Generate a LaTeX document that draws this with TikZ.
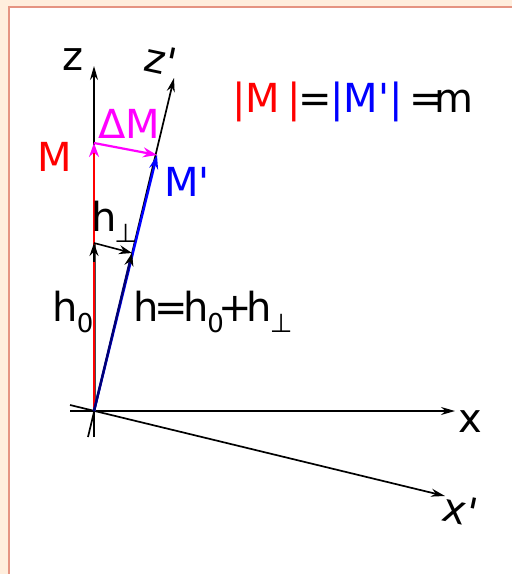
\documentclass[tikz,border=0pt]{standalone}
\usepackage{fontspec}
\setmainfont{DejaVu Sans}
\usetikzlibrary{arrows.meta}
\definecolor{peach}{HTML}{FFEEDD}
\definecolor{salmon}{HTML}{E59482}
\definecolor{mag}{HTML}{FF00FF}
\definecolor{rd}{HTML}{FF0000}
\definecolor{bl}{HTML}{0000FF}
\newcommand{\sbs}[1]{\raisebox{-0.28em}{\fontsize{26}{30}\selectfont #1}}
\newcommand{\pr}{\textquotesingle}
\tikzset{
  lbl/.style={inner sep=0pt, font=\fontsize{40}{48}\selectfont},
  axis/.style={line width=1.7pt, -{Stealth[length=14pt,width=8pt]}},
  vec/.style={line width=2.4pt, -{Stealth[length=14pt,width=9pt]}},
}
\begin{document}
\begin{tikzpicture}[x=1pt,y=-1pt]
\useasboundingbox (0,0) rectangle (512,574);
\fill[peach] (0,0) rectangle (512,574);
\draw[salmon, line width=1.5pt, fill=white] (9,7) rectangle (530,590);
% points
\coordinate (O) at (94,411);
\coordinate (zt) at (94,66);
\coordinate (zb) at (94,437);
\coordinate (zpt) at (174,78);
\coordinate (zpb) at (88,437);
\coordinate (xt) at (455,411);
\coordinate (xb) at (70,411);
\coordinate (xpt) at (445,496);
\coordinate (xpb) at (70,405);
\coordinate (Mt) at (94,143);
\coordinate (Mpt) at (157,155);
\coordinate (h0t) at (94,243);
\coordinate (h0s) at (94,262);
\coordinate (ht) at (132,253);
% axes
\draw[axis] (zb) -- (zt);
\draw[axis] (zpb) -- (zpt);
\draw[axis] (xb) -- (xt);
\draw[axis] (xpb) -- (xpt);
% vectors
\draw[line width=3pt, black!70] (O) -- (h0t);
\draw[line width=2.2pt, rd, -{Stealth[length=14pt,width=10pt,mag]}] (O) -- (Mt);
\draw[line width=1.6pt, black, -{Stealth[length=13pt,width=9pt]}] (h0s) -- (h0t);
\draw[vec, bl] (O) -- (Mpt);
\draw[vec, bl!45!black, -{Stealth[length=13pt,width=9pt,black]}] (O) -- (ht);
\draw[line width=1.6pt, black, -{Stealth[length=13pt,width=9pt]}] (h0t) -- (ht);
\draw[line width=2.2pt, mag, -{Stealth[length=14pt,width=10pt]}] (Mt) -- (Mpt);
% labels
\node[lbl] (lz) at (73,60) {z};
\node[lbl, rotate=-12] (lzp) at (161,60) {z\pr};
\node[lbl] (lx) at (470,422) {x};
\node[lbl, rotate=-12] (lxp) at (460,510) {x\pr};
\node[lbl, rd] (lM) at (55,157) {M};
\node[lbl, bl] (lMp) at (187,182) {M\pr};
\node[lbl, mag] (ldM) at (129,124) {ΔM};
\node[lbl] (lhp) at (114,222) {h\kern-2pt\sbs{⊥}};
\node[lbl] (lh0) at (73,312) {h\kern-1pt\sbs{0}};
\node[lbl, anchor=west] (lh) at (133,312) {h\kern-4pt=\kern-5pt h\kern-1pt\sbs{0}\kern-5pt+\kern-6pt h\kern-2pt\sbs{⊥}};
\node[lbl] (eq) at (353,102) {{\color{rd}|M\,|}\kern-2pt=\kern-2pt{\color{bl}|M\pr|}\,=\kern-8pt m};
\end{tikzpicture}
\end{document}
